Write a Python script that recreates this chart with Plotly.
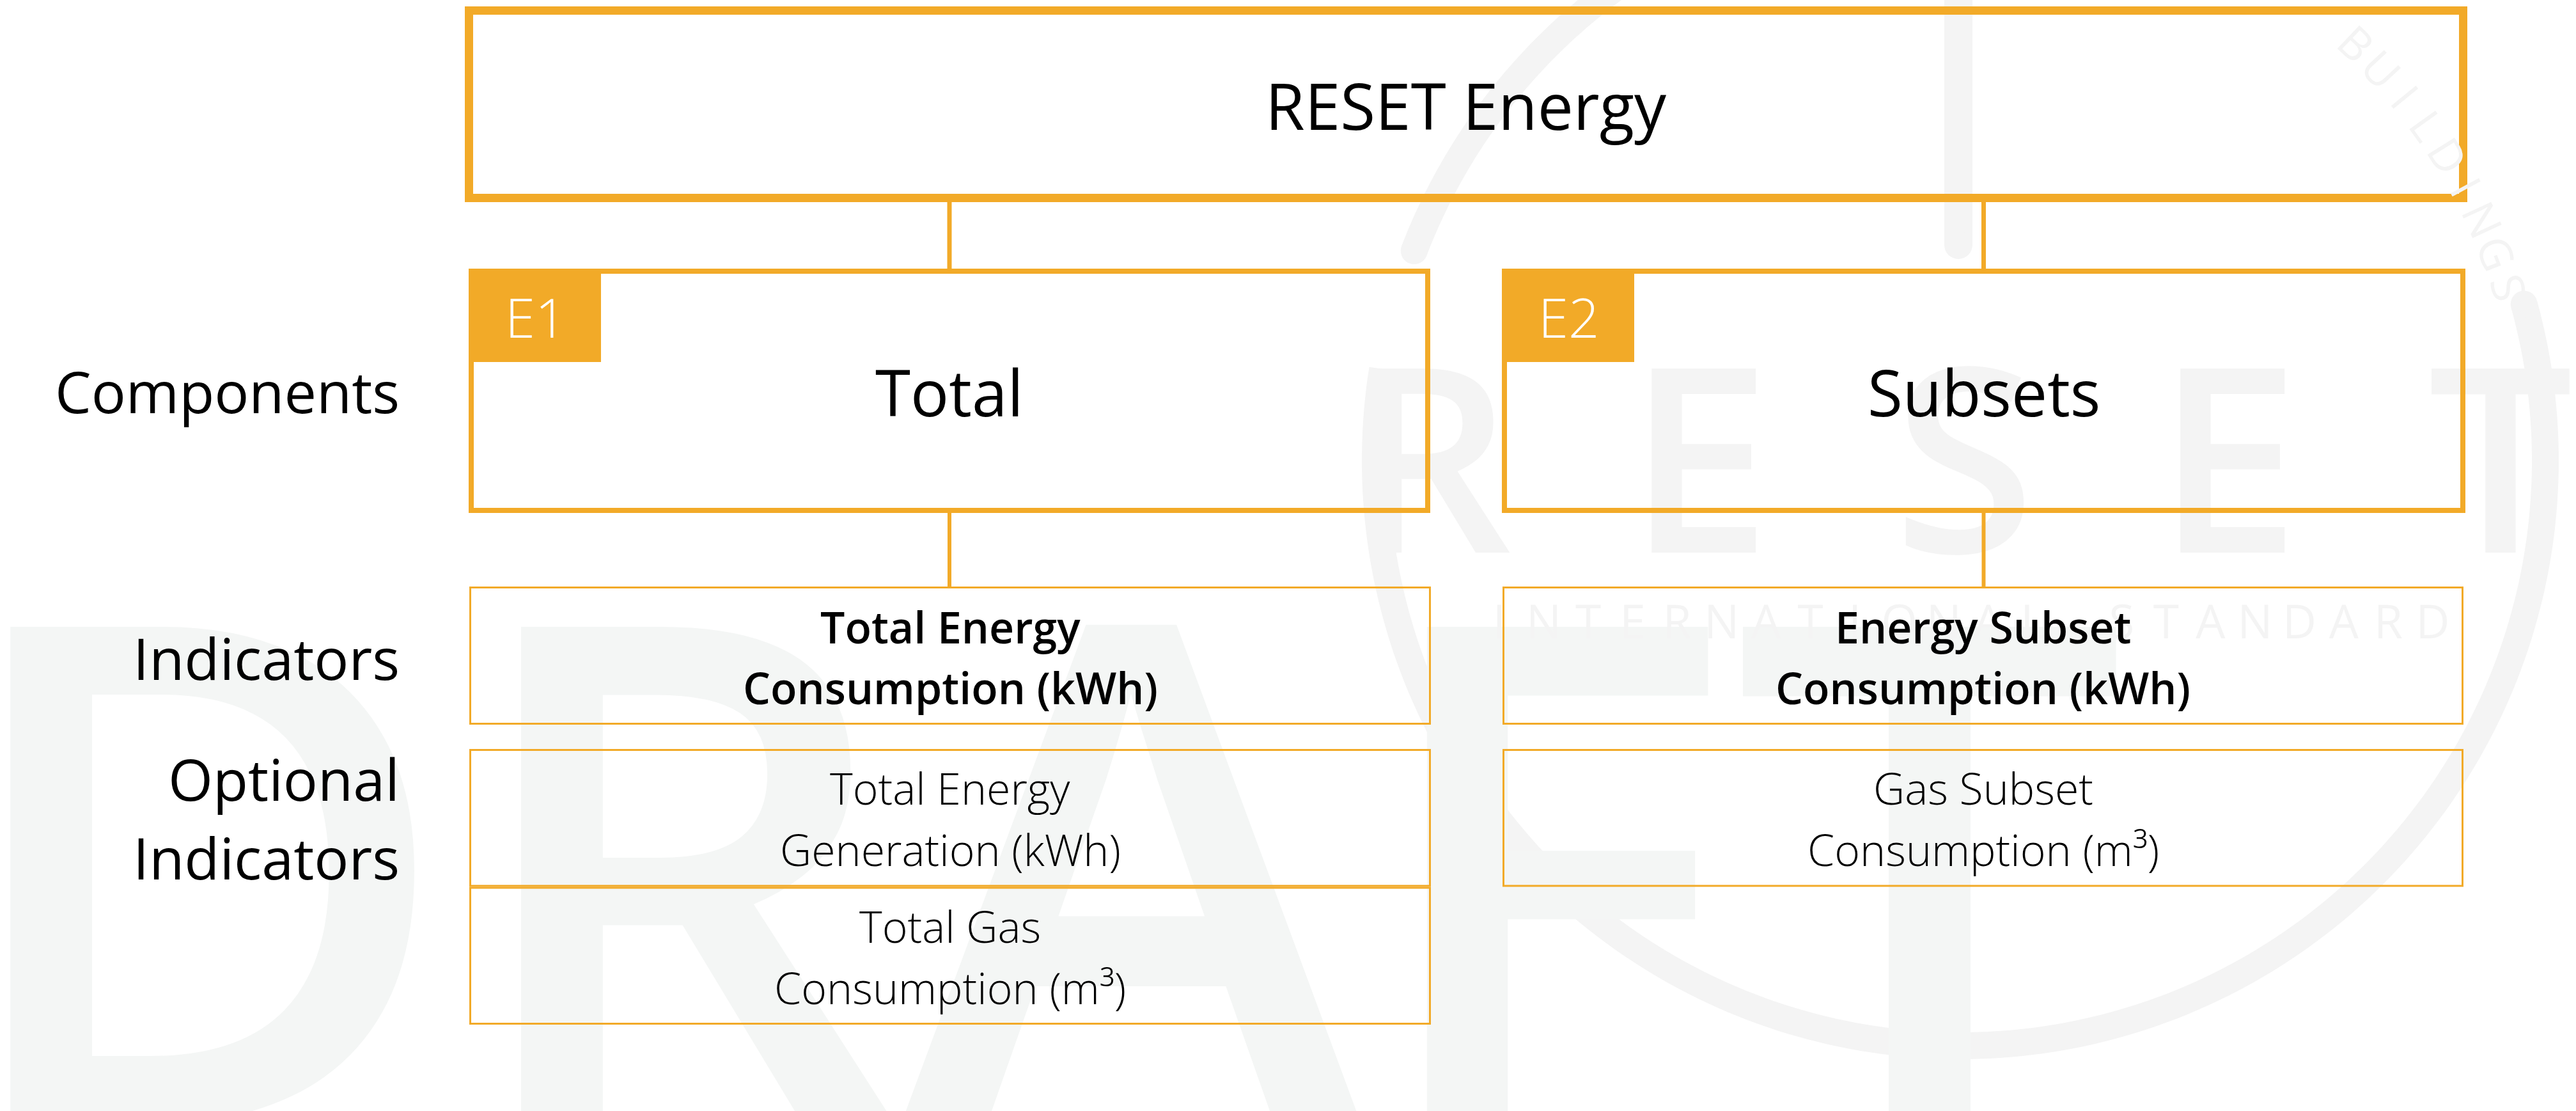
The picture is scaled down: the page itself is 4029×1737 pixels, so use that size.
import numpy as np
import plotly.graph_objects as go

# ---------------- content ----------------
title = "RESET Energy"
component_codes = ["E1", "E2"]
components = ["Total", "Subsets"]
row_labels = ["Components", "Indicators", "Optional<br>Indicators"]
indicators = ["Total Energy<br>Consumption (kWh)", "Energy Subset<br>Consumption (kWh)"]
optional_indicators = [
    ["Total Energy<br>Generation (kWh)", "Total Gas<br>Consumption (m³)"],
    ["Gas Subset<br>Consumption (m³)"],
]
watermark_word = "DRAFT"
logo_word = "RESET"
logo_sub = "INTERNATIONAL STANDARD"
logo_arc = "BUILDINGS"

# ---------------- style / layout ----------------
W, H = 4029, 1737
ORANGE = "#F2AA28"
WM = "#F4F6F5"
LOGO = "#F4F4F4"
FONT = "Open Sans"

col_x = [(733, 2237), (2349, 3856)]
thin_x = [(734, 2238), (2350, 3853)]
top_box = (727, 10, 3859, 316)
comp_y = (420, 802)
code_h = 146
code_w = 207
ind_y = (917, 1133)
opt_top = 1171
opt_h = 215.5

fig = go.Figure()
shapes = []
annotations = []


def ann(x, baseline, text, size, weight=400, color="#000", xanchor="center"):
    annotations.append(dict(
        x=x, y=baseline - 0.388 * size, xref="x", yref="y", text=text,
        showarrow=False, xanchor=xanchor, yanchor="middle",
        font=dict(family=FONT, size=size, color=color, weight=weight),
        borderpad=0,
    ))


def rect_outline(x0, y0, x1, y1, lw, layer="above"):
    h = lw / 2
    shapes.append(dict(type="rect", xref="x", yref="y", x0=x0 + h, y0=y0 + h,
                       x1=x1 - h, y1=y1 - h, line=dict(color=ORANGE, width=lw),
                       fillcolor="rgba(0,0,0,0)", layer=layer))


def vline(x, y0, y1, lw=7):
    shapes.append(dict(type="line", xref="x", yref="y", x0=x, x1=x, y0=y0, y1=y1,
                       line=dict(color=ORANGE, width=lw), layer="above"))


# ---------------- watermark (behind everything) ----------------
cx, cy, R = 3066, 720, 915


def arc_path(a0, a1, n=200):
    t = np.radians(np.linspace(a0, a1, n))
    xs = cx + R * np.cos(t)
    ys = cy - R * np.sin(t)
    return "M " + " L ".join(f"{a:.1f},{b:.1f}" for a, b in zip(xs, ys))


for a0, a1 in [(15.5, -189), (159, 110)]:
    shapes.append(dict(type="path", xref="x", yref="y", path=arc_path(a0, a1),
                       line=dict(color=LOGO, width=42), layer="below"))
for a in (15.5, 159):
    px_, py_ = cx + R * np.cos(np.radians(a)), cy - R * np.sin(np.radians(a))
    shapes.append(dict(type="circle", xref="x", yref="y", x0=px_ - 21, x1=px_ + 21,
                       y0=py_ - 21, y1=py_ + 21, fillcolor=LOGO, line=dict(width=0),
                       layer="below"))
shapes.append(dict(type="line", xref="x", yref="y", x0=3063, x1=3063, y0=-30, y1=383,
                   line=dict(color=LOGO, width=44), layer="below"))
shapes.append(dict(type="circle", xref="x", yref="y", x0=3041, x1=3085, y0=361, y1=405,
                   fillcolor=LOGO, line=dict(width=0), layer="below"))

# DRAFT
fig.add_trace(go.Scatter(
    x=[-86], y=[1758 - 0.25 * 1090], mode="text", text=[watermark_word],
    textposition="middle right", hoverinfo="skip",
    textfont=dict(family=FONT, size=1090, color=WM, weight=600)))

# RESET letters
reset_x = [2236, 2658, 3072, 3485, 3911]
fig.add_trace(go.Scatter(
    x=reset_x, y=[864 - 0.25 * 403] * 5, mode="text", text=list(logo_word),
    textposition="middle center", hoverinfo="skip",
    textfont=dict(family=FONT, size=403, color=LOGO, weight=600)))

# INTERNATIONAL STANDARD
sub_chars = list(logo_sub)
sub_x = np.linspace(2345, 3805, len(sub_chars))
fig.add_trace(go.Scatter(
    x=sub_x, y=[998 - 0.25 * 73] * len(sub_chars), mode="text", text=sub_chars,
    textposition="middle center", hoverinfo="skip",
    textfont=dict(family=FONT, size=73, color=LOGO, weight=400)))

# BUILDINGS along arc
angs = np.linspace(46.5, 17.5, len(logo_arc))
for ch, a in zip(logo_arc, angs):
    rr = 900
    annotations.append(dict(
        x=cx + rr * np.cos(np.radians(a)), y=cy - rr * np.sin(np.radians(a)),
        xref="x", yref="y", text=ch, showarrow=False, textangle=90 - a,
        xanchor="center", yanchor="middle",
        font=dict(family=FONT, size=70, color=LOGO, weight=400)))

# ---------------- diagram ----------------
rect_outline(*top_box, 13)
ann((top_box[0] + top_box[2]) / 2, 203, title, 100)

for i, ((x0, x1), (tx0, tx1)) in enumerate(zip(col_x, thin_x)):
    xc = (x0 + x1) / 2
    # connectors
    vline(xc, top_box[3] - 1, comp_y[0] + 1)
    vline(xc, comp_y[1] - 1, ind_y[0] + 1, lw=6)
    # component box
    rect_outline(x0, comp_y[0], x1, comp_y[1], 8)
    shapes.append(dict(type="rect", xref="x", yref="y", x0=x0, x1=x0 + code_w,
                       y0=comp_y[0], y1=comp_y[0] + code_h, fillcolor=ORANGE,
                       line=dict(width=0), layer="above"))
    ann(x0 + code_w / 2 + 1, 528, component_codes[i], 85, weight=300, color="#FFFFFF")
    ann(xc, 651, components[i], 100)
    # indicator box
    txc = (tx0 + tx1) / 2
    rect_outline(tx0, ind_y[0], tx1, ind_y[1], 3)
    for k, line in enumerate(indicators[i].split("<br>")):
        ann(txc, ind_y[0] + 89 + 95 * k, line, 68, weight=600)
    # optional indicators
    for j, opt in enumerate(optional_indicators[i]):
        oy0 = opt_top + j * opt_h
        rect_outline(tx0, oy0, tx1, oy0 + opt_h, 3)
        for k, line in enumerate(opt.split("<br>")):
            ann(txc, oy0 + 87 + 96 * k, line, 68, weight=300)

# row labels
label_baselines = [[646], [1063], [1252, 1375]]
for lab, bls in zip(row_labels, label_baselines):
    for line, bl in zip(lab.split("<br>"), bls):
        ann(626, bl, line, 90, weight=400, xanchor="right")

fig.update_layout(
    width=W, height=H, margin=dict(l=0, r=0, t=0, b=0),
    paper_bgcolor="white", plot_bgcolor="white", showlegend=False,
    xaxis=dict(range=[0, W], visible=False, fixedrange=True),
    yaxis=dict(range=[H, 0], visible=False, fixedrange=True),
    shapes=shapes, annotations=annotations,
)

fig.write_html(
    "out.html", config={"displayModeBar": False},
    post_script="document.body.style.margin='0';document.body.style.overflow='hidden';",
)
